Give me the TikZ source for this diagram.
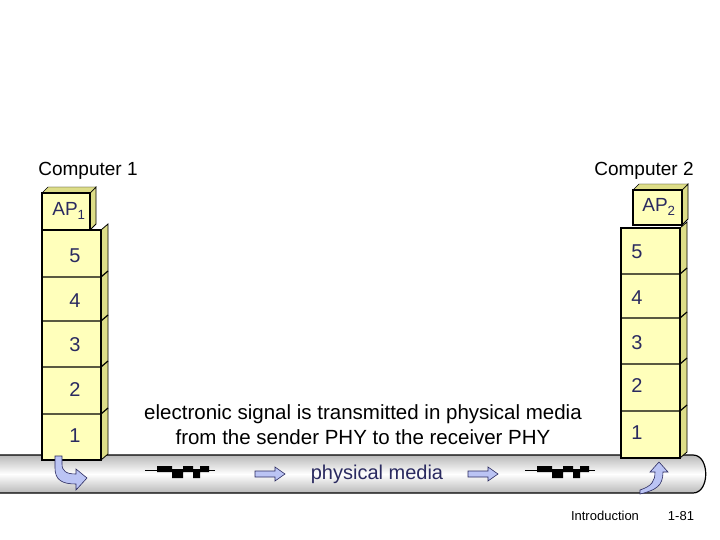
\documentclass[tikz,border=0pt]{standalone}
\usepackage{fontspec}
\setmainfont{Liberation Sans}
\usetikzlibrary{arrows.meta}
\definecolor{lay}{HTML}{FFFFBB}
\definecolor{lays}{HTML}{DDDD88}
\definecolor{ink}{HTML}{2A2A60}
\definecolor{arr}{HTML}{BBC4F4}
\begin{document}
\begin{tikzpicture}[x=1pt,y=-1pt,
  lbl/.style={text=ink,font=\fontsize{20}{22}\selectfont},
  txt/.style={font=\fontsize{19}{21}\selectfont},
  box/.style={fill=lay,draw=black,line width=1.2pt},
  side/.style={fill=lays,draw=black,line width=0.8pt},
  barrow/.style={draw=ink,fill=arr,line width=0.6pt}]
\useasboundingbox (0,0) rectangle (720,540);
% tube
\shade[top color=gray!55,bottom color=gray!55,middle color=white] (0,455) -- (693,455) .. controls (710,455) and (710,493) .. (693,493) -- (0,493) -- cycle;
\draw[line width=1.2pt] (0,455) -- (693,455) .. controls (710,455) and (710,493) .. (693,493) -- (0,493);
% stacks
\newcommand{\stack}[8]{% x1 x2 top b1 b2 b3 b4 bottom
  \fill[lays,draw=black,line width=0.8pt] (#2,#3) -- (#2+7,#3-6) -- (#2+7,#8-6) -- (#2,#8) -- cycle;
  \draw[box] (#1,#3) rectangle (#2,#8);
  \foreach \yy in {#4,#5,#6,#7} {\draw[line width=1.2pt] (#1,\yy) -- (#2,\yy) -- (#2+7,\yy-6);}
}
\stack{42}{101}{230}{277}{321}{367}{414}{460}
\stack{621}{680}{228}{274}{318}{364}{411}{458}
% AP boxes
\fill[side] (90,193) -- (96,187) -- (96,224) -- (90,230) -- cycle;
\fill[lays,draw=black] (42,193) -- (48,187) -- (96,187) -- (90,193) -- cycle;
\node[box,minimum width=48pt,minimum height=37pt,inner sep=0] (ap1) at (66,211.5) {};
\node[lbl,font=\fontsize{19}{21}\selectfont] at (69,211) {AP\textsubscript{1}};
\fill[side] (682,190) -- (688,184) -- (688,219) -- (682,225) -- cycle;
\fill[lays,draw=black] (633,190) -- (639,184) -- (688,184) -- (682,190) -- cycle;
\node[box,minimum width=49pt,minimum height=35pt,inner sep=0] (ap2) at (657.5,207.5) {};
\node[lbl,font=\fontsize{19}{21}\selectfont] at (659,207) {AP\textsubscript{2}};
% layer labels
\foreach \n/\y in {5/256,4/301,3/345,2/390,1/436} \node[lbl] at (75,\y) {\n};
\foreach \n/\y in {5/252,4/298,3/343,2/386,1/433} \node[lbl] at (637,\y) {\n};
\node[txt] (c1) at (88,171) {Computer 1};
\node[txt] (c2) at (644,171) {Computer 2};
\node[txt,align=center,font=\fontsize{20.5}{25}\selectfont] (sig) at (363,425) {electronic signal is transmitted in physical media\\from the sender PHY to the receiver PHY};
\node[lbl] (pm) at (377,474) {physical media};
% hollow arrows
\foreach \x in {255,468} \draw[barrow] (\x,471) -- (\x+20,471) -- (\x+20,467) -- (\x+30,474) -- (\x+20,481) -- (\x+20,477) -- (\x,477) -- cycle;
% square waves
\foreach \x in {145,525} {
 \draw[line width=1pt] (\x,470) -- (\x+70,470);
 \fill (\x+12,466) rectangle (\x+27,472) (\x+27,469) rectangle (\x+38,478) (\x+38,466) rectangle (\x+48,472) (\x+48,469) rectangle (\x+55,478) (\x+55,466) rectangle (\x+64,472);
}
% curved arrows
\draw[barrow] (55,456) -- (55,468) .. controls (55,480) and (62,484) .. (76,484) -- (76,490) -- (87,478) -- (76,469) -- (76,474) .. controls (66,474) and (62,471) .. (62,464) -- (62,456) -- cycle;
\draw[barrow] (640,490) .. controls (652,486) and (655,481) .. (655,472) -- (650,472) -- (659,462) -- (668,472) -- (663,472) .. controls (663,486) and (656,490) .. (640,494) -- cycle;
\node[font=\fontsize{13}{15}\selectfont] (intro) at (605,516) {Introduction};
\node[font=\fontsize{13}{15}\selectfont] (pg) at (681,516) {1-81};
\end{tikzpicture}
\end{document}
